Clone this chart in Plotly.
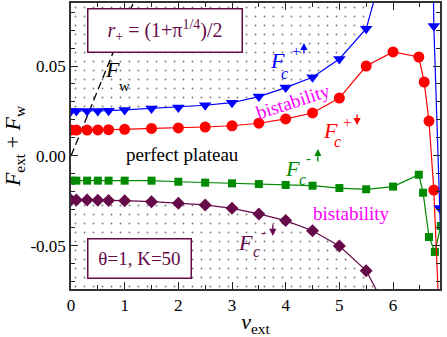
import plotly.graph_objects as go

BLUE = "#0000ff"
RED = "#ff0000"
GREEN = "#008a00"
PURPLE = "#660a4a"
MAGENTA = "#ff00ff"
FONT = "Liberation Serif"

X_RANGE = [0, 6.875]
Y_RANGE = [-0.0739, 0.085]

# F_c^+ (up sweep), blue triangles; the curve leaves the frame near v=5.65
fcp_up_v = [0, 0.1, 0.3, 0.5, 0.7, 1.0, 1.5, 2.0, 2.5, 3.0, 3.5, 4.0, 4.5, 5.0, 5.5, 5.7]
fcp_up = [0.025, 0.025, 0.025, 0.025, 0.0252, 0.0256, 0.0264, 0.027, 0.0282, 0.0296,
          0.033, 0.038, 0.0437, 0.0539, 0.0707, 0.092]
# second blue branch at the right edge
fcp_up2_v = [6.75, 6.76, 6.87, 6.95]
fcp_up2 = [0.095, 0.0722, -0.0289, -0.1]

# F_c^+ (down sweep), red circles
fcp_dn_v = [0, 0.1, 0.3, 0.5, 0.7, 1.0, 1.5, 2.0, 2.5, 3.0, 3.5, 4.0, 4.5, 5.0, 5.5, 6.0,
            6.48, 6.58, 6.67, 6.76, 6.86]
fcp_dn = [0.0144, 0.0144, 0.0144, 0.0145, 0.0146, 0.0148, 0.0153, 0.0156, 0.0161, 0.0168,
          0.0182, 0.0206, 0.0239, 0.0322, 0.05, 0.0578, 0.055, 0.0411, 0.0194, -0.0189, -0.09]

# F_c^- (up sweep), green squares
fcm_up_v = [0, 0.1, 0.3, 0.5, 0.7, 1.0, 1.5, 2.0, 2.5, 3.0, 3.5, 4.0, 4.5, 5.0, 5.5, 6.0,
            6.48, 6.56, 6.67, 6.78, 6.89]
fcm_up = [-0.0137, -0.0137, -0.0137, -0.0137, -0.0137, -0.0137, -0.0137, -0.0143, -0.0148,
          -0.0152, -0.0156, -0.0161, -0.0165, -0.0178, -0.0185, -0.017, -0.0104, -0.0204,
          -0.045, -0.0533, -0.0389]

# F_c^- (down sweep), purple diamonds; leaves the frame near v=5.68
fcm_dn_v = [0, 0.1, 0.3, 0.5, 0.7, 1.0, 1.5, 2.0, 2.5, 3.0, 3.5, 4.0, 4.5, 5.0, 5.5, 5.8]
fcm_dn = [-0.0244, -0.0244, -0.0245, -0.0246, -0.0247, -0.0248, -0.0254, -0.0263, -0.0272,
          -0.0291, -0.0322, -0.0359, -0.0415, -0.05, -0.0637, -0.0807]

# F_w, dashed line
fw_v = [0, 1.25]
fw = [0, 0.0916]

dots = dict(shape=".", size=9, solidity=0.035, fgcolor="black", bgcolor="rgba(0,0,0,0)")

fig = go.Figure()

# dotted regions: above the upper blue curve and below the purple curve
fig.add_trace(go.Scatter(
    x=fcp_up_v + [fcp_up_v[-1], fcp_up_v[0]],
    y=fcp_up + [Y_RANGE[1], Y_RANGE[1]],
    mode="none", fill="toself", fillcolor="rgba(0,0,0,0)", fillpattern=dots,
    hoverinfo="skip", showlegend=False,
))
fig.add_trace(go.Scatter(
    x=fcm_dn_v + [fcm_dn_v[-1], fcm_dn_v[0]],
    y=fcm_dn + [Y_RANGE[0], Y_RANGE[0]],
    mode="none", fill="toself", fillcolor="rgba(0,0,0,0)", fillpattern=dots,
    hoverinfo="skip", showlegend=False,
))

fig.add_trace(go.Scatter(x=fw_v, y=fw, mode="lines",
                         line=dict(color="black", width=1.3, dash="8px,4px"),
                         showlegend=False))

fig.add_trace(go.Scatter(x=fcm_dn_v, y=fcm_dn, mode="lines+markers",
                         line=dict(color=PURPLE, width=1.2),
                         marker=dict(symbol="diamond", size=10, color=PURPLE),
                         showlegend=False))
fig.add_trace(go.Scatter(x=fcm_up_v, y=fcm_up, mode="lines+markers",
                         line=dict(color=GREEN, width=1.2),
                         marker=dict(symbol="square", size=8, color=GREEN),
                         showlegend=False))
fig.add_trace(go.Scatter(x=fcp_dn_v, y=fcp_dn, mode="lines+markers",
                         line=dict(color=RED, width=1.2),
                         marker=dict(symbol="circle", size=11, color=RED),
                         showlegend=False))
fig.add_trace(go.Scatter(x=fcp_up_v, y=fcp_up, mode="lines+markers",
                         line=dict(color=BLUE, width=1.2),
                         marker=dict(symbol="triangle-down", size=11, color=BLUE),
                         showlegend=False))
fig.add_trace(go.Scatter(x=fcp_up2_v, y=fcp_up2, mode="lines+markers",
                         line=dict(color=BLUE, width=1.2),
                         marker=dict(symbol="triangle-down", size=11, color=BLUE),
                         showlegend=False))


def label(x, y, text, color, size, **kw):
    fig.add_annotation(x=x, y=y, text=text, showarrow=False,
                       font=dict(family=FONT, size=size, color=color), **kw)


def arrow(x, y_tail, y_tip, color):
    fig.add_annotation(x=x, y=y_tip, ax=x, ay=y_tail, axref="x", ayref="y", text="",
                       showarrow=True, arrowhead=2, arrowsize=1.1, arrowwidth=1.3,
                       arrowcolor=color)


# boxes
label(1.75, 0.0697, "<i>r</i><sub>+</sub> = (1+π<sup>1/4</sup>)/2", PURPLE, 20,
      bgcolor="white", bordercolor=PURPLE, borderwidth=1.5, borderpad=2,
      width=149, height=38)
label(1.276, -0.0569, "θ=1, K=50", PURPLE, 19,
      bgcolor="white", bordercolor=PURPLE, borderwidth=1.5, borderpad=2,
      width=98, height=34)

# F_w
label(0.78, 0.0478, "<i>F</i>", "black", 22)
label(1.0, 0.0389, "w", "black", 15)

# blue F_c^+ up
label(3.84, 0.0528, "<i>F</i>", BLUE, 22)
label(3.97, 0.046, "<i>c</i>", BLUE, 16)
label(4.19, 0.0583, "+", BLUE, 15)
arrow(4.34, 0.0561, 0.0628, BLUE)

# red F_c^+ down
label(4.83, 0.0144, "<i>F</i>", RED, 22)
label(4.96, 0.0078, "<i>c</i>", RED, 16)
label(5.14, 0.0189, "+", RED, 15)
arrow(5.33, 0.0239, 0.0172, RED)

# green F_c^- up
label(4.12, -0.0067, "<i>F</i>", GREEN, 22)
label(4.32, -0.0133, "<i>c</i>", GREEN, 16)
label(4.43, -0.0011, "-", GREEN, 15)
arrow(4.6, -0.0039, 0.0039, GREEN)

# purple F_c^- down
label(3.26, -0.0478, "<i>F</i>", PURPLE, 22)
label(3.45, -0.0533, "<i>c</i>", PURPLE, 16)
label(3.58, -0.0422, "-", PURPLE, 15)
arrow(3.76, -0.0372, -0.0444, PURPLE)

label(4.14, 0.03, "bistability", MAGENTA, 19, textangle=-18)
label(5.22, -0.0317, "bistability", MAGENTA, 19)
label(2.07, 0.0006, "perfect plateau", "black", 19)

axis_common = dict(
    showline=True, linecolor="#333", linewidth=1.5, mirror="ticks",
    ticks="inside", ticklen=7, tickwidth=1.3, tickcolor="#222",
    showgrid=False, zeroline=False, automargin=False,
    tickfont=dict(family=FONT, size=17, color="black"),
)

fig.update_layout(
    width=447, height=337,
    margin=dict(l=71, r=7, t=3, b=48, autoexpand=False),
    plot_bgcolor="white", paper_bgcolor="white",
    font=dict(family=FONT, color="black"),
    xaxis=dict(
        range=X_RANGE, tickvals=[0, 1, 2, 3, 4, 5, 6],
        minor=dict(tickmode="linear", tick0=0, dtick=0.5, ticks="inside", ticklen=4,
                   tickcolor="#222", tickwidth=1.2),
        title=dict(text="<i>v</i><sub>ext</sub>", font=dict(family=FONT, size=22), standoff=2),
        **axis_common,
    ),
    yaxis=dict(
        range=Y_RANGE, tickvals=[-0.05, 0, 0.05], ticktext=["-0.05", "0.00", "0.05"],
        minor=dict(tickmode="linear", tick0=0, dtick=0.01, ticks="inside", ticklen=4,
                   tickcolor="#222", tickwidth=1.2),
        title=dict(text="<i>F</i><sub>ext</sub> + <i>F</i><sub>w</sub>",
                   font=dict(family=FONT, size=22), standoff=9),
        **axis_common,
    ),
)

# the page's default 8px body margin would shift the figure
fig.write_html("out.html", config={"displayModeBar": False},
               post_script="document.body.style.margin='0';")
